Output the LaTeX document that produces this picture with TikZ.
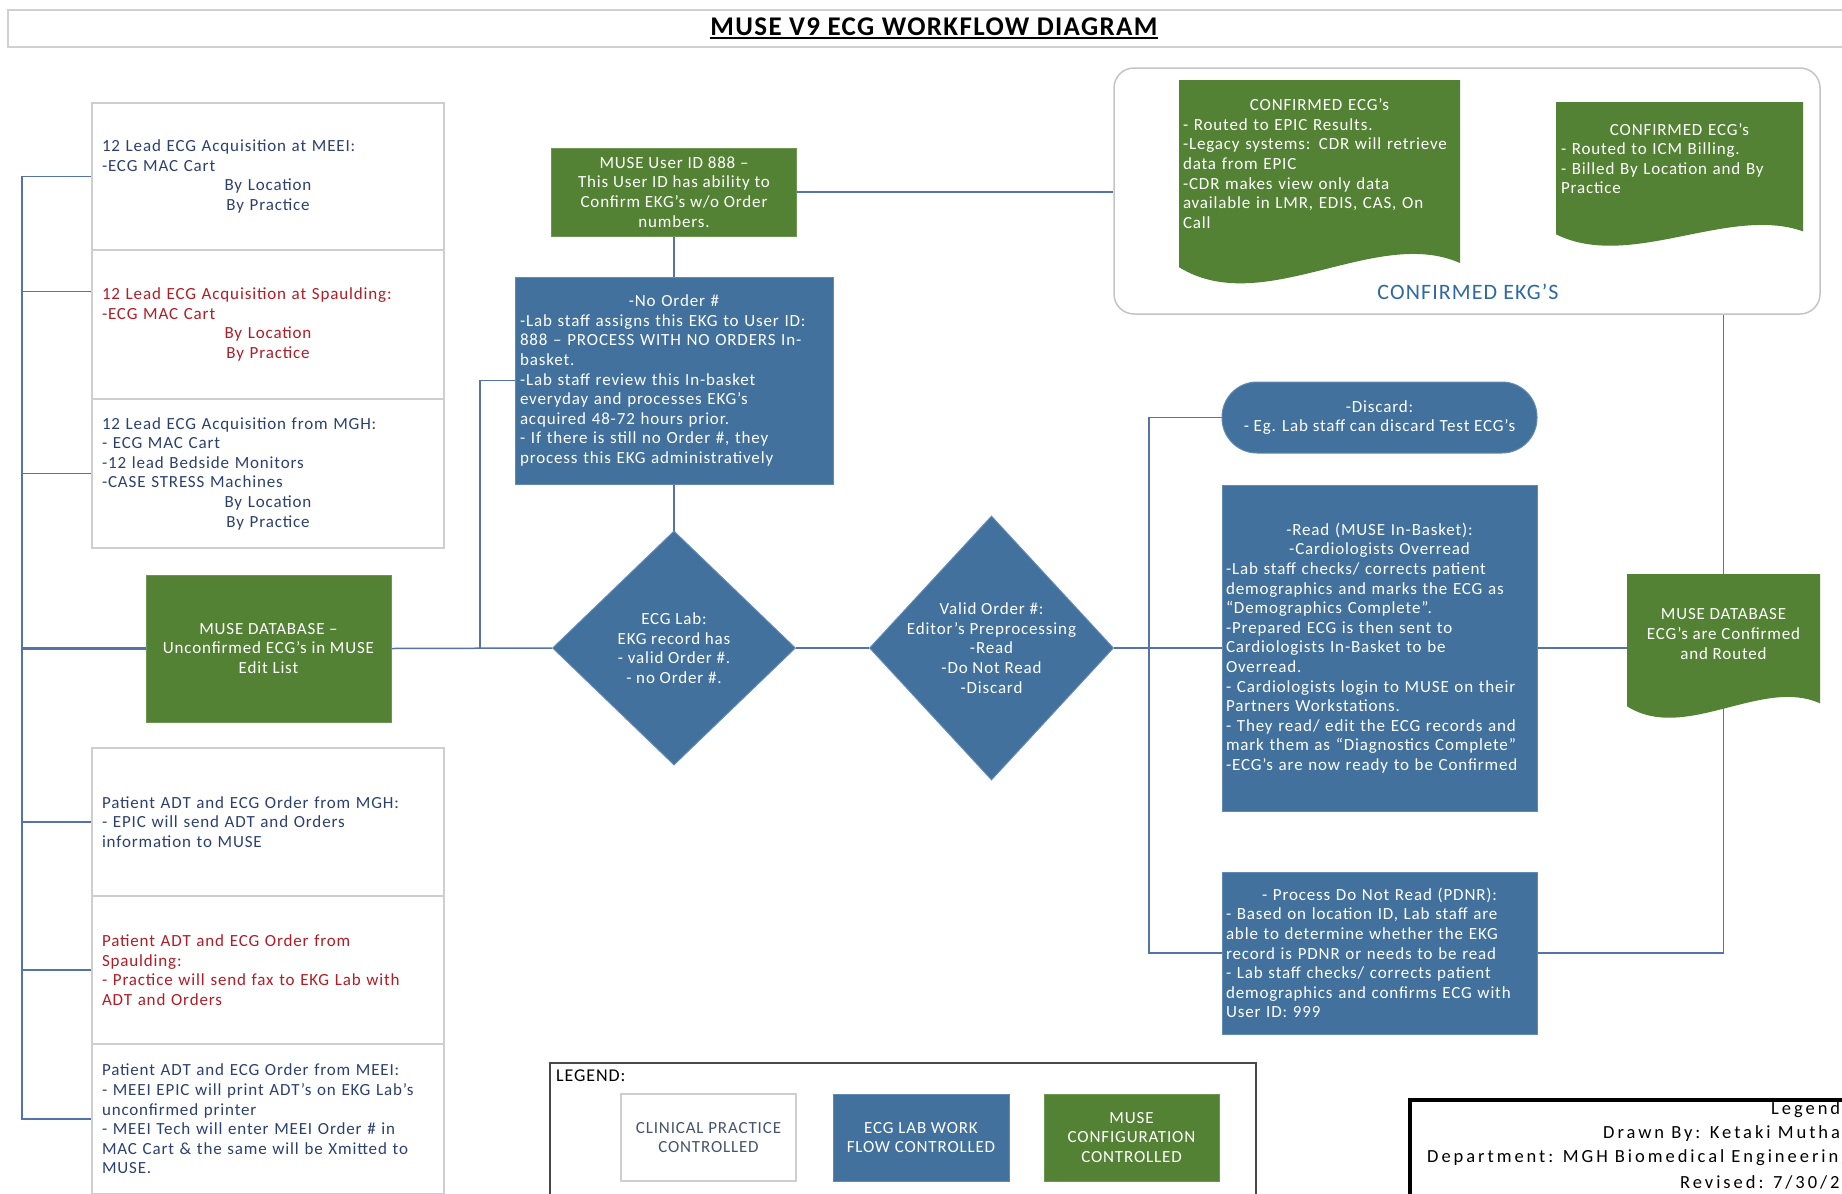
\documentclass[tikz,border=0pt]{standalone}
\usepackage{fontspec}
\usepackage{xcolor}
\setmainfont{Carlito}[LetterSpace=5]
\newfontfamily\stampfont{Carlito}[LetterSpace=16]
\usetikzlibrary{shapes.geometric,calc,backgrounds}

\newcommand{\ulined}[1]{\setbox0=\hbox{#1}\rlap{\rule[-4pt]{\wd0}{2pt}}\box0}
\newcommand{\docshape}[4]{%
  \fill[musefill] (#1,#2) -- (#3,#2) -- (#3,{#2+0.88*(#4-#2)})
    .. controls ({#1+0.7*(#3-#1)},{#2+0.7*(#4-#2)}) and ({#1+0.3*(#3-#1)},{#2+1.15*(#4-#2)})
    .. (#1,{#2+0.9*(#4-#2)}) -- cycle;}

\begin{document}
\begin{tikzpicture}[x=1pt,y=1pt,yscale=-1,
  font=\fontsize{17}{19.6}\selectfont,
  link/.style={draw={rgb, 255:red, 86; green, 114; blue, 172}, line width=1.5pt},
  musefill/.style={fill={rgb, 255:red, 84; green, 130; blue, 53}},
  clinicbox/.style={draw={rgb, 255:red, 206; green, 206; blue, 210}, line width=1.5pt, fill=white,
    minimum width=352pt, text width=332pt, align=left, inner sep=0pt,
    text={rgb, 255:red, 44; green, 64; blue, 112}},
  redtext/.style={text={rgb, 255:red, 178; green, 28; blue, 38}},
  labbox/.style={draw={rgb, 255:red, 96; green, 138; blue, 180}, line width=1pt,
    fill={rgb, 255:red, 65; green, 113; blue, 156}, text=white, inner sep=0pt},
  musebox/.style={musefill, draw={rgb, 255:red, 108; green, 150; blue, 82}, line width=1pt,
    text=white, inner sep=0pt, align=center},
  decision/.style={labbox, shape=diamond},
  doctext/.style={text=white, align=left, inner sep=0pt},
  onblue/.style={text=white, align=center, inner sep=0pt},
  stamptext/.style={anchor=west, inner sep=0pt, font=\stampfont\fontsize{18.5}{20}\selectfont}
]
\useasboundingbox (0,0) rectangle (1842,1194);
\clip (0,0) rectangle (1842,1194);

%Shape: Rectangle (title bar)
\node[draw={rgb, 255:red, 208; green, 208; blue, 208}, line width=2pt, minimum width=1852pt,
  minimum height=37pt, inner sep=0pt, font=\fontsize{27}{30}\selectfont\bfseries]
  (title) at (934,28.5) {\ulined{MUSE V9 ECG WORKFLOW DIAGRAM}};

%Shape: Rectangle (clinical practice boxes)
\node[clinicbox, minimum height=147pt] (acqmeei) at (268,176.5)
  {12 Lead ECG Acquisition at MEEI:\\-ECG MAC Cart\par{\centering By Location\\By Practice\par}};
\node[clinicbox, redtext, minimum height=149pt] (acqspaulding) at (268,324.5)
  {12 Lead ECG Acquisition at Spaulding:\\-ECG MAC Cart\par{\centering By Location\\By Practice\par}};
\node[clinicbox, minimum height=149pt] (acqmgh) at (268,473.5)
  {12 Lead ECG Acquisition from MGH:\\- ECG MAC Cart\\-12 lead Bedside Monitors\\-CASE STRESS Machines\par{\centering By Location\\By Practice\par}};
\node[clinicbox, minimum height=148pt] (adtmgh) at (268,822)
  {Patient ADT and ECG Order from MGH:\\- EPIC will send ADT and Orders\\information to MUSE};
\node[clinicbox, redtext, minimum height=148pt] (adtspaulding) at (268,970)
  {Patient ADT and ECG Order from\\Spaulding:\\- Practice will send fax to EKG Lab with\\ADT and Orders};
\node[clinicbox, minimum height=150pt] (adtmeei) at (268,1119)
  {Patient ADT and ECG Order from MEEI:\\- MEEI EPIC will print ADT’s on EKG Lab’s\\unconfirmed printer\\- MEEI Tech will enter MEEI Order \# in\\MAC Cart \& the same will be Xmitted  to\\MUSE.};

%Shape: Rectangle (MUSE configuration)
\node[musebox, minimum width=245pt, minimum height=147pt] (musedb) at (268.5,648.5)
  {MUSE DATABASE –\\Unconfirmed ECG’s in MUSE\\Edit List};
\node[musebox, minimum width=245pt, minimum height=88pt] (user888) at (674,192)
  {MUSE User ID 888 –\\This User ID has ability to\\Confirm EKG’s w/o Order\\numbers.};

%Shape: Rectangle (ECG lab work flow)
\node[labbox, minimum width=318pt, minimum height=207pt, text width=308pt, align=left] (noorder) at (674,380.5)
  {{\centering -No Order \#\par}-Lab staff assigns this EKG to User ID:\\888 – PROCESS WITH NO ORDERS In-\\basket.\\-Lab staff review this In-basket\\everyday and processes EKG’s\\acquired 48-72 hours prior.\\- If there is still no Order \#, they\\process this EKG administratively};

%Shape: Diamond
\node[decision, minimum width=243pt, minimum height=234pt] (labcheck) at (674,648) {};
\node[onblue] (labchecktext) at (labcheck) {ECG Lab:\\EKG record has\\- valid Order \#.\\- no Order \#.};
\node[decision, minimum width=244pt, minimum height=264pt] (preproc) at (991.5,648) {};
\node[onblue] (preproctext) at (preproc) {Valid Order \#:\\Editor’s Preprocessing\\-Read\\-Do Not Read\\-Discard};

%Shape: Terminator
\node[labbox, rounded corners=35pt, minimum width=315pt, minimum height=71pt, align=center] (discard) at (1379.5,417.5)
  {-Discard:\\- Eg. Lab staff can discard Test ECG’s};
%Shape: Rectangle
\node[labbox, minimum width=315pt, minimum height=326pt, text width=307pt, align=left] (read) at (1379.5,648)
  {{\centering -Read (MUSE In-Basket):\\-Cardiologists Overread\par}-Lab staff checks/ corrects patient\\demographics and marks the ECG as\\“Demographics Complete”.\\-Prepared ECG is then sent to\\Cardiologists In-Basket to be\\Overread.\\- Cardiologists login to MUSE on their\\Partners Workstations.\\- They read/ edit the ECG records and\\mark them as “Diagnostics Complete”\\-ECG’s are now ready to be Confirmed};
\node[labbox, minimum width=315pt, minimum height=162pt, text width=307pt, align=left] (pdnr) at (1379.5,953)
  {{\centering - Process Do Not Read (PDNR):\par}- Based on location ID, Lab staff are\\able to determine whether the EKG\\record is PDNR or needs to be read\\- Lab staff checks/ corrects patient\\demographics and confirms ECG with\\User ID: 999};

%Shape: Rounded Rectangle (confirmed group)
\node[draw={rgb, 255:red, 196; green, 196; blue, 200}, line width=1.5pt, rounded corners=20pt, fill=white,
  minimum width=706pt, minimum height=246pt, inner sep=0pt] (confirmed) at (1467,191) {};
\node[text={rgb, 255:red, 46; green, 104; blue, 166}, inner sep=0pt, font=\fontsize{22}{24}\selectfont]
  (confirmedlabel) at (1468,292) {CONFIRMED EKG’S};

%Shape: Document
\docshape{1179}{80}{1460}{288}
\node[doctext, text width=273pt] (epicdoc) at (1319.5,163.5)
  {{\centering CONFIRMED ECG’s\par}- Routed to EPIC Results.\\-Legacy systems: CDR will retrieve\\data from EPIC\\-CDR makes view only data\\available in LMR, EDIS, CAS, On\\Call};
\docshape{1556}{102}{1803}{249}
\node[doctext, text width=237pt] (icmdoc) at (1679.5,158.5)
  {{\centering CONFIRMED ECG’s\par}- Routed to ICM Billing.\\- Billed By Location and By\\Practice};
\docshape{1627}{574}{1820}{721}
\node[onblue] (museout) at (1723.5,634) {MUSE DATABASE\\ECG’s are Confirmed\\and Routed};
\coordinate (museoutin) at (1627,648);

%Shape: Rectangle (legend)
\node[draw={rgb, 255:red, 72; green, 72; blue, 72}, line width=1.8pt, minimum width=706pt,
  minimum height=147pt, inner sep=0pt] (legend) at (903,1136.5) {};
\node[anchor=west, inner sep=0pt, font=\fontsize{18}{20}\selectfont] (legendtitle) at (556,1076) {LEGEND:};
\node[draw={rgb, 255:red, 206; green, 206; blue, 210}, line width=1.5pt, fill=white, minimum width=175pt,
  minimum height=87pt, inner sep=0pt, align=center, text={rgb, 255:red, 68; green, 84; blue, 106}]
  (keyclinic) at (708.5,1137.5) {CLINICAL PRACTICE\\CONTROLLED};
\node[labbox, minimum width=176pt, minimum height=87pt, align=center] (keylab) at (921,1137.5)
  {ECG LAB WORK\\FLOW CONTROLLED};
\node[musebox, minimum width=175pt, minimum height=87pt] (keymuse) at (1131.5,1137.5)
  {MUSE\\CONFIGURATION\\CONTROLLED};

%Shape: Rectangle (title block)
\node[draw=black, line width=4pt, minimum width=490pt, minimum height=140pt, inner sep=0pt]
  (stamp) at (1654.5,1169.5) {};
% Text Node
\node[stamptext] (stamplegend) at (1771,1110) {Legend};
\node[stamptext] (stampauthor) at (1603,1134) {Drawn By: Ketaki Mutha};
\node[stamptext] (stampdept) at (1427,1158) {Department: MGH Biomedical Engineering};
\node[stamptext] (stamprev) at (1680,1182) {Revised: 7/30/20};

\begin{scope}[on background layer]
%Straight Lines (left bus)
\coordinate (bustop) at (22,176.5);
\coordinate (busbot) at (22,1119);
\coordinate (spin) at ($(acqspaulding.north west)!0.28!(acqspaulding.south west)$);
\draw[link] (acqmeei.west) -- (bustop) -- (busbot) -- (adtmeei.west);
\draw[link] (spin) -- (spin -| bustop);
\draw[link] (acqmgh.west) -- (acqmgh.west -| bustop);
\draw[link, line width=2.2pt] (musedb.west) -- (musedb.west -| bustop);
\draw[link] (adtmgh.west) -- (adtmgh.west -| bustop);
\draw[link] (adtspaulding.west) -- (adtspaulding.west -| bustop);
%Straight Lines (main flow)
\coordinate (split) at (480,648);
\draw[link] (musedb.east) -- (labcheck.west);
\draw[link] (split) |- (noorder.west);
\draw[link] (user888.south) -- (noorder.north);
\draw[link] (noorder.south) -- (labcheck.north);
\draw[link] (user888.east) -- (user888.east -| confirmed.west);
\draw[link] (labcheck.east) -- (preproc.west);
\draw[link] (preproc.east) -- (read.west);
\coordinate (rsplit) at (1149,648);
\draw[link] (discard.west) -| (rsplit) |- (pdnr.west);
\draw[link] (read.east) -- (museoutin);
\draw[link] (pdnr.east) -| (museout |- confirmed.south);
\end{scope}

\end{tikzpicture}
\end{document}
